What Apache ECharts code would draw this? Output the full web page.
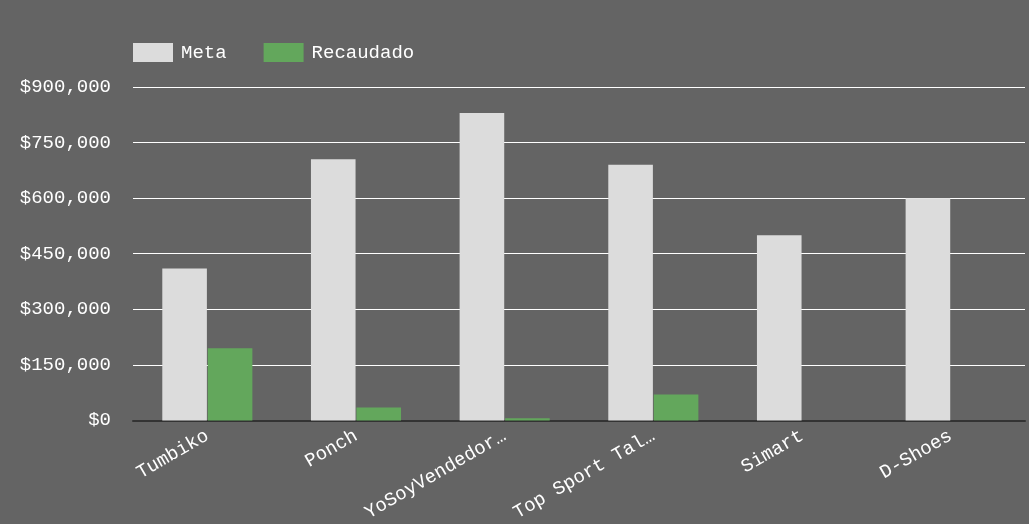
<!DOCTYPE html>
<html lang="es">
<head>
    <meta charset="UTF-8">
    <title>Meta vs Recaudado</title>
    <script src="https://cdn.jsdelivr.net/npm/echarts@6/dist/echarts.min.js"></script>
    <style>
        html, body { margin: 0; padding: 0; background: #646464; }
    </style>
</head>
<body>
    <div id="chart" style="width: 1029px; height: 524px;"></div>

    <script>
        // datos
        const categories = ['Tumbiko', 'Ponch', 'YoSoyVendedor…', 'Top Sport Tal…', 'Simart', 'D-Shoes'];
        const meta = [410000, 705000, 830000, 690000, 500000, 600000];
        const recaudado = [195000, 35000, 6000, 70000, 0, 0];

        const font = '"Liberation Mono", "DejaVu Sans Mono", monospace';

        const myChart = echarts.init(document.getElementById('chart'));

        const option = {
            backgroundColor: '#646464',
            textStyle: { fontFamily: font },
            legend: {
                left: 128,
                top: 38,
                itemWidth: 40,
                itemHeight: 19,
                itemGap: 37,
                icon: 'rect',
                textStyle: { color: '#ffffff', fontSize: 19, fontFamily: font, padding: [0, 0, 0, 3] }
            },
            grid: {
                left: 133,
                right: 4,
                top: 87,
                bottom: 102
            },
            xAxis: {
                type: 'category',
                data: categories,
                axisTick: { show: false },
                axisLine: { lineStyle: { color: '#333333', width: 2 } },
                axisLabel: {
                    rotate: 30,
                    color: '#ffffff',
                    fontSize: 19,
                    fontFamily: font,
                    margin: 14,
                    interval: 0
                }
            },
            yAxis: {
                type: 'value',
                min: 0,
                max: 900000,
                interval: 150000,
                axisLine: { show: false },
                axisTick: { show: false },
                splitLine: { lineStyle: { color: '#ffffff', width: 1 } },
                axisLabel: {
                    color: '#ffffff',
                    fontSize: 19,
                    fontFamily: font,
                    margin: 22,
                    formatter: v => '$' + v.toLocaleString('en-US')
                }
            },
            series: [
                {
                    name: 'Meta',
                    type: 'bar',
                    data: meta,
                    barWidth: '30%',
                    barGap: '2%',
                    itemStyle: { color: '#dcdcdc' }
                },
                {
                    name: 'Recaudado',
                    type: 'bar',
                    data: recaudado,
                    barWidth: '30%',
                    itemStyle: { color: '#63a75c' }
                }
            ]
        };

        myChart.setOption(option);
    </script>
</body>
</html>
